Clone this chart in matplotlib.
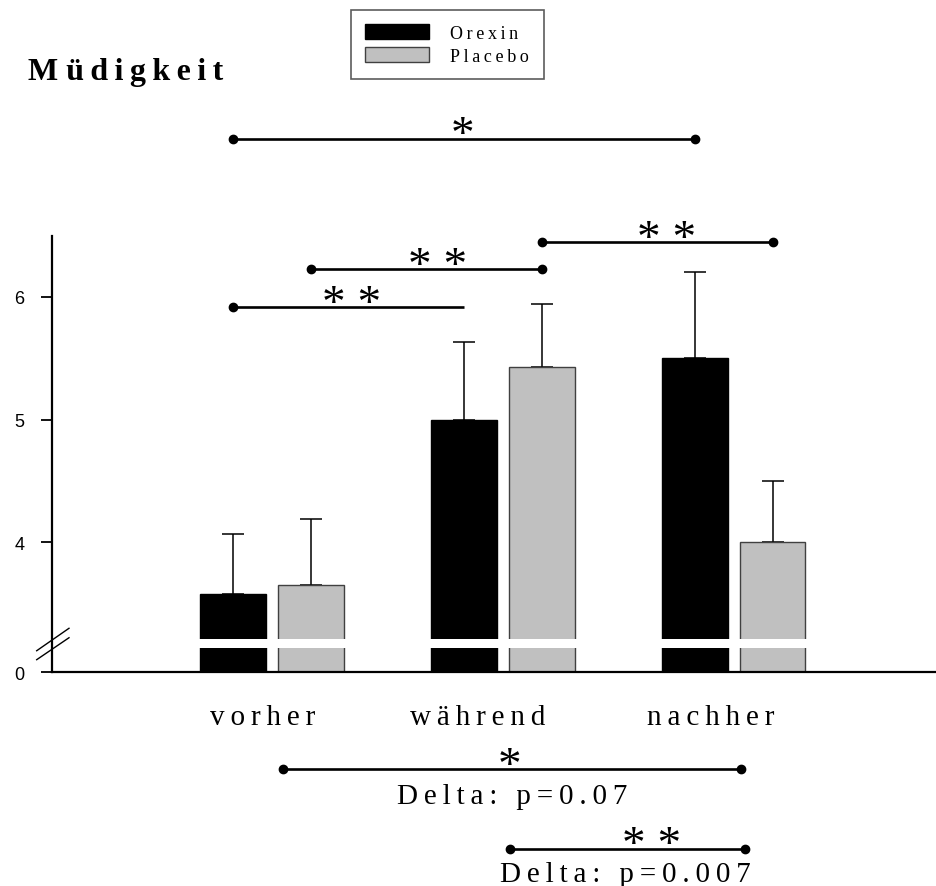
import matplotlib.pyplot as plt
from matplotlib.patches import Patch
from matplotlib.transforms import blended_transform_factory

groups = ['vorher', 'während', 'nachher']
orexin = [3.58, 5.0, 5.5]
placebo = [3.65, 5.43, 4.0]
orexin_err = [0.49, 0.63, 0.70]
placebo_err = [0.54, 0.51, 0.50]

# lower end of the broken axis, shown as "0"
base = 2.94

serif = ['Liberation Serif', 'DejaVu Serif']
sans = ['Liberation Sans', 'DejaVu Sans']


def spaced(s):
    # the original uses wide letter spacing
    return '\u2009'.join(s)


fig = plt.figure(figsize=(9.37, 8.87), dpi=100)
ax = fig.add_axes([0.0555, 0.2409, 0.9445, 0.4919])

pos = list(range(len(groups)))
off = 0.168
w = 0.285
xo = [p - off for p in pos]
xp = [p + off for p in pos]

ax.bar(xo, [v - base for v in orexin], w, bottom=base, color='black',
       edgecolor='black', linewidth=1, zorder=2)
ax.bar(xp, [v - base for v in placebo], w, bottom=base, color='#c0c0c0',
       edgecolor='#404040', linewidth=1, zorder=2)
ax.errorbar(xo, orexin, yerr=[[0] * 3, orexin_err], fmt='none', ecolor='black',
            elinewidth=1.1, capsize=8, capthick=1.1, zorder=1.5)
ax.errorbar(xp, placebo, yerr=[[0] * 3, placebo_err], fmt='none', ecolor='black',
            elinewidth=1.1, capsize=8, capthick=1.1, zorder=1.5)

# white gap through the bars + break marks on the axis
ax.axhspan(3.135, 3.208, color='white', zorder=2.2, lw=0)
bt = blended_transform_factory(ax.transAxes, ax.transData)
ax.plot([-0.0173, 0.0192], [3.116, 3.299], color='black', lw=1, transform=bt,
        clip_on=False, zorder=3)
ax.plot([-0.0173, 0.0192], [3.043, 3.222], color='black', lw=1, transform=bt,
        clip_on=False, zorder=3)

ax.set_xlim(-0.952, 2.88)
ax.set_ylim(base, 6.497)
ax.set_yticks([base, 4, 5, 6], ['0', '4', '5', '6'])
ax.tick_params(axis='y', direction='out', length=8, width=1.3, pad=12,
               labelsize=13)
for lab in ax.get_yticklabels():
    lab.set_family(sans)
ax.set_xticks([-0.04, 0.89, 1.9], [spaced(g) for g in groups])
ax.tick_params(axis='x', length=0, pad=23, labelsize=21)
for lab in ax.get_xticklabels():
    lab.set_family(serif)
for s in ['top', 'right']:
    ax.spines[s].set_visible(False)
for s in ['left', 'bottom']:
    ax.spines[s].set_linewidth(1.6)

# significance lines above the bars: (x1, x2, y, stars, star_x, right dot)
sig_top = [
    (xo[0], xo[2], 7.29, '*', 0.824, True),
    (xo[0], xo[1], 5.916, '* *', 0.347, False),
    (xp[0], xp[1], 6.226, '* *', 0.716, True),
    (xp[1], xp[2], 6.446, '* *', 1.707, True),
]
# delta comparisons below the axis: (x1, x2, y, stars, star_x, text, text_x, text_y)
sig_delta = [
    (0.05, 2.03, 2.15, '*', 1.03, 'Delta: p=0.07', 1.04, 1.875),
    (1.03, 2.05, 1.50, '* *', 1.646, 'Delta: p=0.007', 1.53, 1.239),
]


def bracket(x1, x2, y, stars, sx, right_dot=True):
    ax.plot([x1, x2], [y, y], color='black', lw=1.9, clip_on=False,
            solid_capstyle='butt')
    dots = [x1, x2] if right_dot else [x1]
    ax.plot(dots, [y] * len(dots), 'o', color='black', ms=6, clip_on=False)
    ax.annotate(stars, (sx, y), xytext=(0, -6), textcoords='offset points',
                ha='center', va='baseline', fontsize=34, family=serif,
                annotation_clip=False)


for x1, x2, y, st, sx, rd in sig_top:
    bracket(x1, x2, y, st, sx, rd)
for x1, x2, y, st, sx, txt, tx, ty in sig_delta:
    bracket(x1, x2, y, st, sx)
    ax.text(tx, ty, spaced(txt), ha='center', va='baseline', fontsize=21,
            family=serif, clip_on=False)

fig.text(28 / 937, 1 - 80 / 887, 'M ' + spaced('üdigkeit'), fontsize=23,
         fontweight='bold', family=serif, va='baseline', ha='left')

handles = [Patch(facecolor='black', edgecolor='black'),
           Patch(facecolor='#c0c0c0', edgecolor='#404040')]
leg = fig.legend(handles, [spaced('Orexin'), spaced('Placebo')],
                 loc='upper left', bbox_to_anchor=(351 / 937, 1 - 11 / 887),
                 prop={'family': serif, 'size': 13}, frameon=True,
                 fancybox=False, handlelength=3.5, handleheight=0.85,
                 handletextpad=1.2, labelspacing=0.3, borderpad=0.8,
                 borderaxespad=0)
leg.get_frame().set_edgecolor('#333333')
leg.get_frame().set_linewidth(1.2)

fig.savefig('out.png', dpi=100)
